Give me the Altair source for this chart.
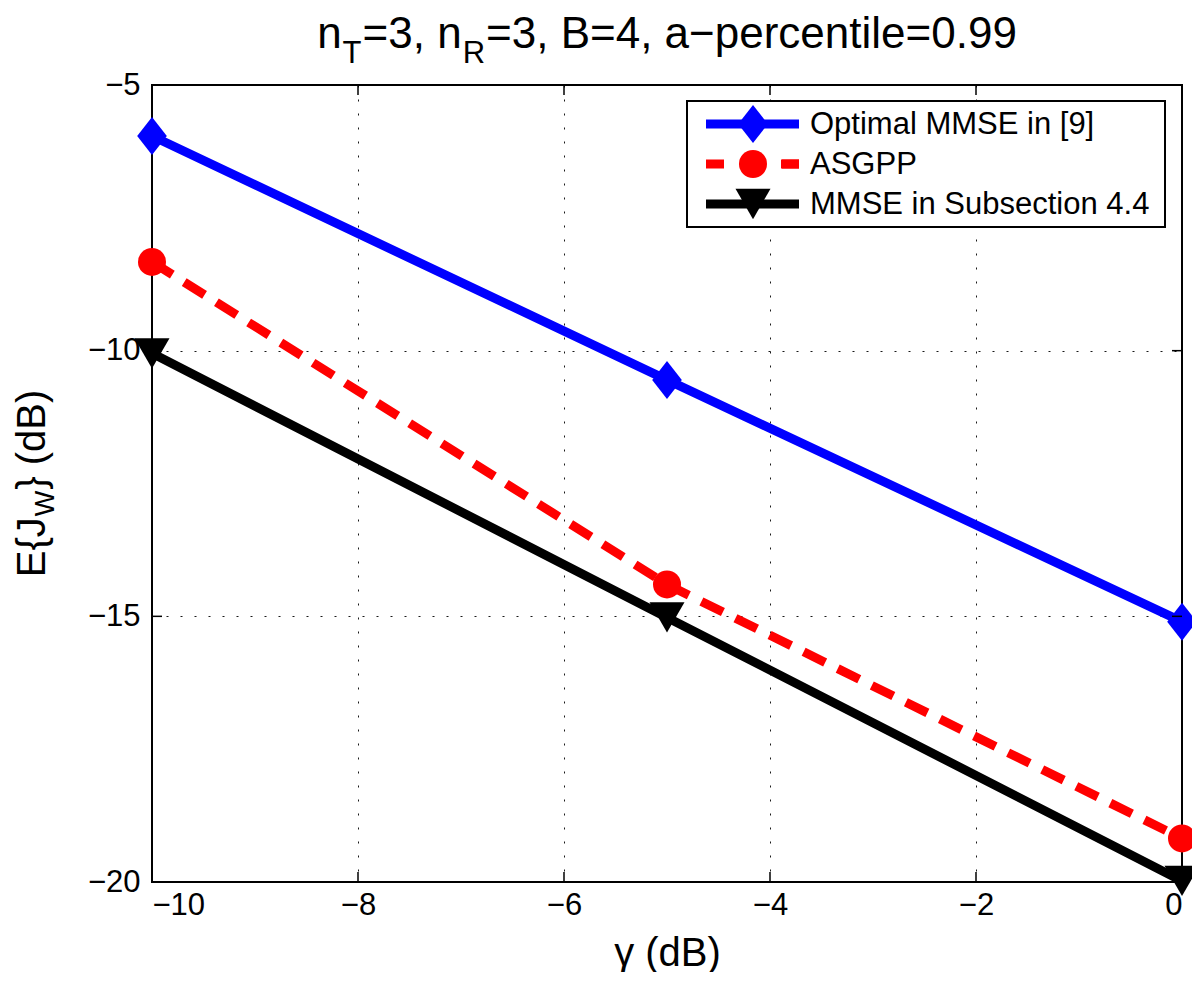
import altair as alt
import pandas as pd

# ---------------- data ----------------
gamma_db = [-10, -5, 0]
optimal_mmse = [-5.96, -10.55, -15.10]
asgpp = [-8.33, -14.40, -19.18]
mmse_sub44 = [-10.05, -15.02, -19.98]
series_names = ["Optimal MMSE in [9]", "ASGPP", "MMSE in Subsection 4.4"]
series_values = [optimal_mmse, asgpp, mmse_sub44]
series_colors = ["#0000FF", "#FF0000", "#000000"]
x_ticks = [-10, -8, -6, -4, -2, 0]
y_ticks = [-20, -15, -10, -5]
x_title = "γ (dB)"
title_parts = [("n", False), ("T", True), ("=3, n", False), ("R", True),
               ("=3, B=4, a−percentile=0.99", False)]
ytitle_parts = [("E{J", False), ("W", True), ("} (dB)", False)]

# ---------------- styling ----------------
W, H = 1030, 797
FONT = "Liberation Sans"
DIAMOND = "M0,-1L0.78,0L0,1L-0.78,0Z"
shapes = [DIAMOND, "circle", "triangle-down"]
sizes = [1444, 784, 1225]
dashes = [None, [24, 14], None]
LW = 9

# Arial / Liberation Sans advance widths (em)
CW = {"n": .556, "T": .611, "=": .584, "3": .556, ",": .278, " ": .278, "R": .722,
      "B": .667, "4": .556, "a": .556, "−": .584, "p": .556, "e": .556, "r": .333,
      "c": .5, "t": .278, "i": .222, "l": .222, "0": .556, ".": .278, "9": .556,
      "E": .667, "{": .334, "J": .5, "W": .944, "}": .334, "(": .333, "d": .556,
      ")": .333}


def tw(s, size):
    return sum(CW.get(ch, .556) for ch in s) * size


xs = alt.Scale(domain=[-10, 0], nice=False, zero=False)
ys = alt.Scale(domain=[-20, -5], nice=False, zero=False)

common_axis = dict(grid=True, gridDash=[2, 12], gridColor="black", gridWidth=1,
                   gridOpacity=0.9, ticks=False, domain=False, labelFont=FONT,
                   labelFontSize=31, labelColor="black", format="d")
x_axis = alt.Axis(values=x_ticks, labelPadding=8, title=x_title, titleFont=FONT,
                  titleFontSize=40, titleFontWeight="normal", titleColor="black",
                  titleBaseline="alphabetic", titleY=83, **common_axis)
y_axis = alt.Axis(values=y_ticks, labelPadding=12, title=None, **common_axis)


def X(field):
    return alt.X(field, scale=xs, axis=x_axis)


def Y(field):
    return alt.Y(field, scale=ys, axis=y_axis)


layers = []

# data series
for name, vals, col, shp, sz, dash in zip(series_names, series_values, series_colors,
                                          shapes, sizes, dashes):
    df = pd.DataFrame({"gamma": gamma_db, "value": vals, "series": name})
    lkw = dict(color=col, strokeWidth=LW, clip=False)
    if dash:
        lkw["strokeDash"] = dash
    layers.append(alt.Chart(df).mark_line(**lkw).encode(x=X("gamma:Q"), y=Y("value:Q")))
    layers.append(alt.Chart(df).mark_point(shape=shp, size=sz, filled=True, color=col,
                                           opacity=1, strokeWidth=0, clip=False)
                  .encode(x=X("gamma:Q"), y=Y("value:Q")))

# inside ticks (MATLAB style)
xt = pd.DataFrame({"t": x_ticks})
yt = pd.DataFrame({"t": y_ticks})
TL = 10
layers.append(alt.Chart(xt).mark_rule(color="black", strokeWidth=1.5)
              .encode(x=X("t:Q"), y=alt.value(H - TL), y2=alt.value(H)))
layers.append(alt.Chart(xt).mark_rule(color="black", strokeWidth=1.5)
              .encode(x=X("t:Q"), y=alt.value(0), y2=alt.value(TL)))
layers.append(alt.Chart(yt).mark_rule(color="black", strokeWidth=1.5)
              .encode(y=Y("t:Q"), x=alt.value(0), x2=alt.value(TL)))
layers.append(alt.Chart(yt).mark_rule(color="black", strokeWidth=1.5)
              .encode(y=Y("t:Q"), x=alt.value(W - TL), x2=alt.value(W)))

# legend box
box = pd.DataFrame({"k": [0]})
layers.append(alt.Chart(box).mark_rect(fill="white", stroke="black", strokeWidth=2)
              .encode(x=alt.value(535), x2=alt.value(1013), y=alt.value(16), y2=alt.value(142)))
for i, (name, col, shp, sz, dash) in enumerate(zip(series_names, series_colors, shapes,
                                                     sizes, dashes)):
    yrow = 39 + 40 * i
    ld = pd.DataFrame({"label": [name]})
    rkw = dict(color=col, strokeWidth=LW)
    if dash:
        rkw["strokeDash"] = [18, 58]
    layers.append(alt.Chart(ld).mark_rule(**rkw)
                  .encode(x=alt.value(554), x2=alt.value(647), y=alt.value(yrow)))
    if dash:
        layers.append(alt.Chart(ld).mark_rule(color=col, strokeWidth=LW)
                      .encode(x=alt.value(629), x2=alt.value(647), y=alt.value(yrow)))
    layers.append(alt.Chart(ld).mark_point(shape=shp, size=sz, filled=True, color=col,
                                           opacity=1, strokeWidth=0)
                  .encode(x=alt.value(601), y=alt.value(yrow)))
    layers.append(alt.Chart(ld).mark_text(align="left", baseline="middle", font=FONT,
                                          fontSize=31, color="black")
                  .encode(text="label:N", x=alt.value(658), y=alt.value(yrow + 1)))

# title with subscripts
MAIN, SUB = 44, 31
GAP = 1
total = sum(tw(s, SUB if sub else MAIN) for s, sub in title_parts) + GAP * (len(title_parts) - 1)
xpos = W / 2 - total / 2
for s, sub in title_parts:
    size = SUB if sub else MAIN
    td = pd.DataFrame({"t": [s]})
    layers.append(alt.Chart(td).mark_text(align="left", baseline="alphabetic", font=FONT,
                                          fontSize=size, color="black")
                  .encode(text="t:N", x=alt.value(xpos), y=alt.value(-22 if sub else -37)))
    xpos += tw(s, size) + GAP

# y axis title with subscript (rotated)
YM, YS = 40, 27
total = sum(tw(s, YS if sub else YM) for s, sub in ytitle_parts) + GAP * (len(ytitle_parts) - 1)
ypos = H / 2 + total / 2
for s, sub in ytitle_parts:
    size = YS if sub else YM
    td = pd.DataFrame({"t": [s]})
    layers.append(alt.Chart(td).mark_text(align="left", baseline="alphabetic", font=FONT,
                                          fontSize=size, color="black", angle=270)
                  .encode(text="t:N", x=alt.value(-98 if sub else -107), y=alt.value(ypos)))
    ypos -= tw(s, size) + GAP

chart = alt.layer(*layers).properties(
    width=W, height=H,
    padding={"left": 144, "top": 77, "right": 10, "bottom": 90},
    autosize=alt.AutoSizeParams(type="none"),
    background="white",
).configure_view(stroke="black", strokeWidth=2)

chart.save("out.html", embed_options={"renderer": "svg", "actions": False})
